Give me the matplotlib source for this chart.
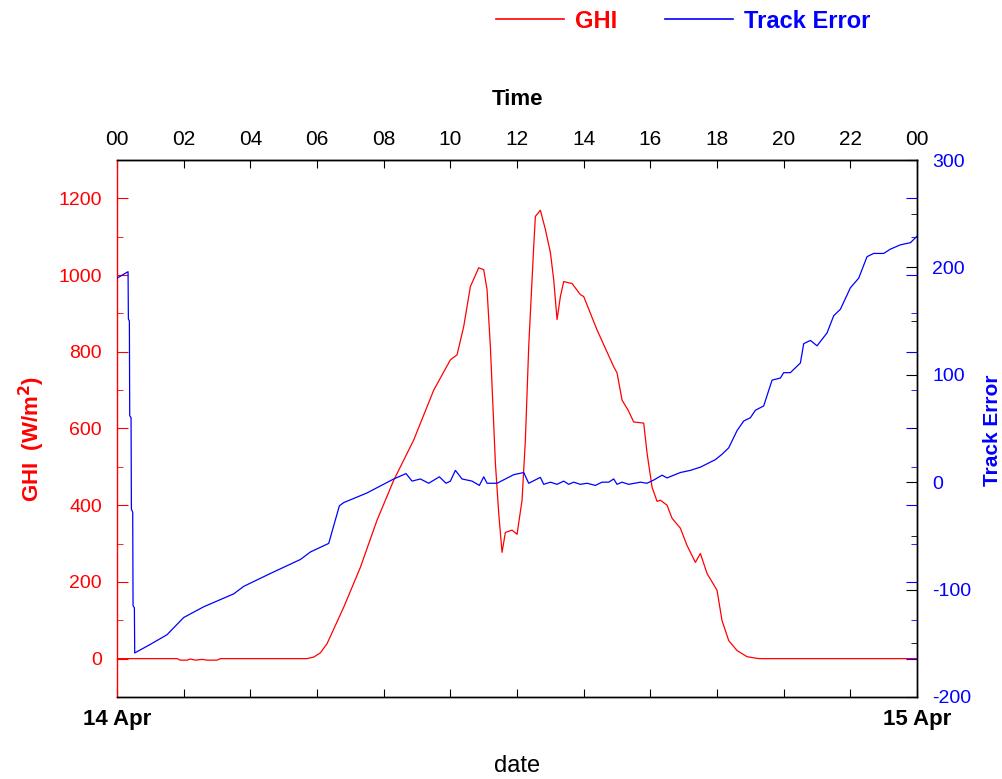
import numpy as np
import matplotlib
matplotlib.use("Agg")
import matplotlib.pyplot as plt
from matplotlib.lines import Line2D

plt.rcParams["font.family"] = ["Liberation Sans", "DejaVu Sans"]
plt.rcParams["axes.unicode_minus"] = False
NARROW = ["Liberation Sans Narrow", "Liberation Sans", "DejaVu Sans"]

# hours since 14 Apr 00:00
ghi_hours = [0, 1.0, 1.8, 1.9, 2.1, 2.2, 2.35, 2.55, 2.7, 3.0, 3.1, 5.7, 5.9, 6.1, 6.3,
             6.8, 7.3, 7.8, 8.3, 8.9, 9.5, 10.0, 10.2, 10.4, 10.6, 10.85, 11.0, 11.1,
             11.2, 11.35, 11.45, 11.55, 11.65, 11.85, 12.0, 12.15, 12.25, 12.35, 12.5,
             12.55, 12.7, 12.85, 13.0, 13.1, 13.2, 13.3, 13.4, 13.65, 13.9, 14.0, 14.4,
             14.9, 15.0, 15.15, 15.33, 15.5, 15.8, 15.9, 16.05, 16.2, 16.3, 16.5, 16.65,
             16.9, 17.1, 17.35, 17.5, 17.7, 18.0, 18.15, 18.35, 18.6, 18.9, 19.25, 24]
ghi = [0, 0, 0, -4, -4, -1, -4, -2, -4, -4, 0, 0, 4, 15, 39,
       134, 238, 361, 465, 570, 700, 779, 792, 866, 970, 1019, 1014, 962,
       813, 510, 379, 277, 329, 335, 324, 413, 570, 813, 1075,
       1153, 1169, 1119, 1059, 988, 884, 944, 983, 978, 949, 944, 857,
       761, 745, 674, 648, 617, 614, 536, 447, 410, 413, 400, 366,
       340, 295, 251, 274, 222, 178, 99, 47, 21, 5, 0, 0]

te_hours = [0, 0.33, 0.34, 0.37, 0.38, 0.42, 0.43, 0.47, 0.48, 0.52, 0.53, 1.0, 1.5, 2.0,
            2.6, 3.5, 3.8, 4.6, 5.5, 5.8, 6.35, 6.45, 6.67, 6.8, 7.5, 8.3, 8.67, 8.85,
            9.1, 9.35, 9.67, 9.87, 10.0, 10.15, 10.35, 10.65, 10.87, 11.0, 11.1, 11.4,
            11.9, 12.2, 12.35, 12.7, 12.8, 13.0, 13.2, 13.4, 13.55, 13.7, 13.9, 14.1,
            14.35, 14.55, 14.75, 14.9, 15.0, 15.15, 15.35, 15.7, 15.9, 16.1, 16.35, 16.5,
            16.9, 17.2, 17.5, 17.95, 18.15, 18.35, 18.6, 18.8, 19.0, 19.15, 19.4, 19.65,
            19.9, 20.0, 20.2, 20.5, 20.6, 20.8, 21.0, 21.3, 21.5, 21.7, 22.0, 22.25,
            22.5, 22.7, 23.0, 23.2, 23.5, 23.8, 24.0]
track_error = [190, 196, 152, 150, 62, 60, -25, -28, -115, -117, -159, -151, -142, -126,
               -116, -104, -97, -85, -72, -65, -57, -46, -22, -19, -10, 3, 8, 1,
               3, -1, 5, -1, 1, 11, 3, 1, -3, 5, -1, -1,
               7, 9, -1, 4.5, -2, 0, -2, 1, -2, 0, -2, -1,
               -3, 0, 0, 3, -2, 0, -2, 0, -1, 2, 6.5, 4,
               9, 11, 14, 21, 26, 32, 48, 57, 60, 67, 71, 95,
               97, 102, 102, 111, 129, 132, 127, 139, 155, 161, 181, 190,
               210, 213, 213, 217, 221, 223, 229]

hour_ticks = list(range(0, 25, 2))
hour_labels = ["%02d" % (h % 24) for h in hour_ticks]
date_labels = ["14 Apr"] + [""] * 11 + ["15 Apr"]

fig = plt.figure(figsize=(10.03, 7.79), dpi=100)
ax = fig.add_axes([0.1167, 0.1053, 0.7976, 0.6893])

# GHI on the left axis
ax.plot(ghi_hours, ghi, color="red", lw=0.9)
ax.set_xlim(0, 24)
ax.set_ylim(-100, 1300)
ax.set_yticks(range(0, 1201, 200))
ax.set_yticks(range(100, 1200, 200), minor=True)
ax.tick_params(axis="y", which="both", direction="in", colors="red", labelsize=14, pad=11)
ax.tick_params(axis="y", which="major", length=8)
ax.tick_params(axis="y", which="minor", length=4)
ax.set_xticks(hour_ticks)
ax.set_xticklabels(date_labels, fontweight="bold", fontsize=16)
ax.tick_params(axis="x", direction="in", length=6, color="black", pad=9)
ax.spines["left"].set_color("red")
for s in ax.spines.values():
    s.set_linewidth(1.0)
ax.set_xlabel("date", fontsize=17, family=NARROW, labelpad=18)
ax.set_ylabel("GHI  (W/m$^\\mathbf{2}$)", color="red", fontsize=16, fontweight="bold")
ax.yaxis.set_label_coords(-0.087, 0.48)

# top time axis
top = ax.secondary_xaxis("top")
top.set_xticks(hour_ticks)
top.set_xticklabels(hour_labels, family=NARROW, fontsize=15)
top.tick_params(direction="in", length=6, pad=8)
top.set_xlabel("Time", fontsize=16, fontweight="bold", labelpad=18)

# GHI ticks mirrored on the right spine
mirror = ax.twinx()
mirror.set_ylim(ax.get_ylim())
mirror.set_yticks(range(0, 1201, 200))
mirror.set_yticks(range(100, 1200, 200), minor=True)
mirror.tick_params(axis="y", which="both", direction="in", colors="blue", labelright=False)
mirror.tick_params(axis="y", which="major", length=8)
mirror.tick_params(axis="y", which="minor", length=4)
for s in mirror.spines.values():
    s.set_visible(False)

# Track error on the right axis
ax2 = ax.twinx()
ax2.plot(te_hours, track_error, color="blue", lw=0.9)
ax2.set_ylim(-200, 300)
ax2.set_yticks(range(-200, 301, 100))
ax2.set_yticks(range(-150, 300, 100), minor=True)
ax2.tick_params(axis="y", which="both", direction="in", color="black", labelcolor="blue",
                labelsize=14, pad=11)
ax2.tick_params(axis="y", which="major", length=8)
ax2.tick_params(axis="y", which="minor", length=4)
ax2.spines["left"].set_visible(False)
for s in ax2.spines.values():
    s.set_linewidth(1.0)
ax2.set_ylabel("Track Error", color="blue", fontsize=15, fontweight="bold")
ax2.yaxis.set_label_coords(1.083, 0.497)

handles = [Line2D([], [], color="red", lw=1.2), Line2D([], [], color="blue", lw=1.2)]
fig.legend(handles, ["GHI", "Track Error"], loc="center", bbox_to_anchor=(0.681, 0.973),
           ncol=2, frameon=False, labelcolor=["red", "blue"], handlelength=2.9,
           handletextpad=0.45, columnspacing=2.0, prop={"size": 17, "weight": "bold"})

fig.savefig("out.png", dpi=100)
